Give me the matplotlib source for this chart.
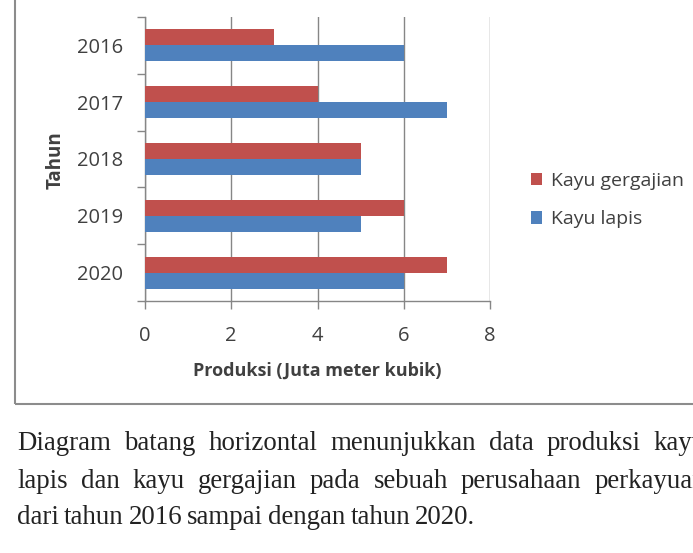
import matplotlib
matplotlib.use('Agg')
import matplotlib.pyplot as plt
from matplotlib.patches import Rectangle
import numpy as np

tahun = ['2016', '2017', '2018', '2019', '2020']
kayu_gergajian = [3, 4, 5, 6, 7]
kayu_lapis = [6, 7, 5, 5, 6]
x_ticks = [0, 2, 4, 6, 8]

caption = ["Diagram batang horizontal menunjukkan data produksi kayu",
           "lapis dan kayu gergajian pada sebuah perusahaan perkayuan",
           "dari tahun 2016 sampai dengan tahun 2020."]

W, H = 693, 553
merah = '#C0504D'
biru = '#4F81BD'
abu = '#868686'
teks = '#404040'

plt.rcParams['font.family'] = ['Open Sans', 'DejaVu Sans']

fig = plt.figure(figsize=(W / 100, H / 100), dpi=100)

# frame around the chart (top and right are outside the picture)
fig.patches.append(Rectangle((15 / W, 1 - 404 / H), 1.0, 1.0, transform=fig.transFigure,
                             fill=False, edgecolor='#8c8c8c', lw=1.5, zorder=0))

ax = fig.add_axes([145 / W, 1 - 301 / H, 345 / W, 284 / H])
y = np.arange(len(tahun))
h = 0.28
ax.barh(y - h / 2, kayu_gergajian, height=h, color=merah, label='Kayu gergajian', zorder=3)
ax.barh(y + h / 2, kayu_lapis, height=h, color=biru, label='Kayu lapis', zorder=3)

ax.set_xlim(0, 8)
ax.set_ylim(len(tahun) - 0.5, -0.5)
ax.set_xticks(x_ticks)
ax.set_xticklabels([str(v) for v in x_ticks])
ax.set_yticks(np.arange(len(tahun) + 1) - 0.5)
ax.set_yticklabels([])
ax.set_yticks(y, minor=True)
ax.set_yticklabels(tahun, minor=True)

ax.tick_params(axis='y', which='major', length=6, width=1, color=abu, direction='out')
ax.tick_params(axis='y', which='minor', length=0, pad=16, labelsize=14.5, labelcolor=teks)
ax.tick_params(axis='x', length=6, width=1, color=abu, direction='out', pad=12,
               labelsize=14.5, labelcolor=teks)

ax.grid(axis='x', color=abu, lw=1, zorder=0)
for s in ['top', 'right']:
    ax.spines[s].set_visible(False)
for s in ['left', 'bottom']:
    ax.spines[s].set_color(abu)
    ax.spines[s].set_linewidth(1)

ax.set_xlabel('Produksi (Juta meter kubik)', fontsize=13, fontweight='bold', color=teks, labelpad=11)
fig.text(56 / W, 1 - 160 / H, 'Tahun', rotation=90, fontsize=13.5, fontweight='bold',
         color=teks, ha='center', va='center')

hd, lb = ax.get_legend_handles_labels()
ax.legend(hd, lb, loc='center left', bbox_to_anchor=(513 / W, 1 - 200 / H),
          bbox_transform=fig.transFigure, frameon=False, fontsize=14,
          handlelength=0.6, handleheight=0.6, handletextpad=0.45,
          labelspacing=1.05, labelcolor=teks)

# caption below the chart, justified like the source page
left, right = 17, 706
baris_y = [443, 481, 517]
r = fig.canvas.get_renderer()
for i, line in enumerate(caption):
    words = line.split()
    objs = [fig.text(0, 1 - baris_y[i] / H, w, family='Liberation Serif', fontsize=19.4,
                     color='#222222', va='center', ha='left') for w in words]
    widths = [t.get_window_extent(r).width for t in objs]
    if i < len(caption) - 1:
        gap = (right - left - sum(widths)) / (len(words) - 1)
    else:
        gap = objs[0].get_window_extent(r).height * 0.2
    xpos = left
    for t, wd in zip(objs, widths):
        t.set_x(xpos / W)
        xpos += wd + gap

fig.savefig('out.png', dpi=100)
